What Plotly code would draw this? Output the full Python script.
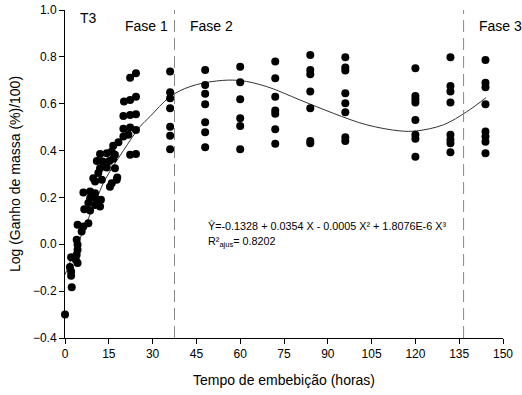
import plotly.graph_objects as go

# ---- data ----
hours_fase1 = [0, 2.3, 1.7, 2.1, 2.1, 2.1, 3.7, 4.3, 4.0, 4.3, 4.3, 4.0,
               5.7, 4.3, 6.3, 8.0, 6.6, 8.6, 8.0, 10.3, 12.0, 8.6, 10.9, 12.3,
               6.3, 8.6, 10.3, 10.3, 12.6, 15.4, 17.7, 9.7, 11.4, 17.9, 16.0,
               12.0, 14.3, 17.1, 10.9, 12.9, 15.2, 16.5, 12.0, 14.3, 16.0, 17.1,
               24.3, 22.3, 18.3, 16.5, 20.0, 21.7, 20.0, 22.3, 24.3, 20.0, 22.3,
               24.3, 20.2, 22.3, 24.3, 22.3, 24.3]
log_fase1 = [-0.30, -0.183, -0.097, -0.116, -0.134, -0.055, -0.066, -0.080, 0.019, -0.002, -0.023, -0.045,
             0.055, 0.083, 0.076, 0.090, 0.150, 0.144, 0.176, 0.168, 0.161, 0.197, 0.190, 0.190,
             0.221, 0.225, 0.218, 0.268, 0.275, 0.246, 0.275, 0.282, 0.304, 0.285, 0.261,
             0.325, 0.328, 0.325, 0.356, 0.353, 0.356, 0.365, 0.385, 0.389, 0.396, 0.382,
             0.385, 0.382, 0.436, 0.421, 0.460, 0.467, 0.493, 0.498, 0.488, 0.548, 0.552,
             0.555, 0.609, 0.616, 0.630, 0.711, 0.730]

col_hours = [36, 48, 60, 72, 84, 96, 120, 132, 144]
col_values = [
    [0.737, 0.649, 0.623, 0.581, 0.502, 0.463, 0.406],
    [0.744, 0.680, 0.642, 0.598, 0.521, 0.478, 0.414],
    [0.758, 0.692, 0.619, 0.538, 0.505, 0.406],
    [0.780, 0.709, 0.630, 0.571, 0.557, 0.491, 0.429],
    [0.808, 0.744, 0.726, 0.652, 0.581, 0.441, 0.431],
    [0.798, 0.755, 0.742, 0.645, 0.602, 0.564, 0.457, 0.441],
    [0.751, 0.633, 0.619, 0.605, 0.531, 0.467, 0.450, 0.374],
    [0.798, 0.676, 0.652, 0.605, 0.467, 0.446, 0.431, 0.393],
    [0.787, 0.690, 0.670, 0.598, 0.481, 0.460, 0.438, 0.389],
]

# fitted curve
curve_x = [0, 1.1, 6, 11.4, 13.7, 20, 25.7, 29.1, 36.0, 42.8, 51.9, 59.9, 69.1,
           80.5, 91.9, 103.3, 114.7, 120.4, 129.6, 137.6, 144.2]
curve_y = [-0.13, -0.095, 0.05, 0.211, 0.275, 0.40, 0.502, 0.545, 0.630, 0.673,
           0.697, 0.699, 0.673, 0.616, 0.559, 0.510, 0.484, 0.484, 0.510, 0.566, 0.626]

phase_limits = [37.5, 136.5]
x_ticks = list(range(0, 151, 15))
y_ticks = [-0.4, -0.2, 0.0, 0.2, 0.4, 0.6, 0.8, 1.0]

# ---- build ----
all_x = list(hours_fase1)
all_y = list(log_fase1)
for h, vals in zip(col_hours, col_values):
    all_x += [h] * len(vals)
    all_y += vals

FONT = "Liberation Sans, Arial, sans-serif"
fig = go.Figure()
fig.add_trace(go.Scatter(x=curve_x, y=curve_y, mode="lines",
                         line=dict(color="#333333", width=1, shape="spline", smoothing=1.0),
                         hoverinfo="skip", showlegend=False))
fig.add_trace(go.Scatter(x=all_x, y=all_y, mode="markers",
                         marker=dict(color="black", size=8),
                         cliponaxis=False, showlegend=False))

for xv in phase_limits:
    fig.add_shape(type="line", xref="x", yref="y", x0=xv, x1=xv, y0=-0.4, y1=1.0,
                  line=dict(color="#888888", width=1, dash="12px,6px"))

ann = [
    ("T3", 4.5, 0.968),
    ("Fase 1", 19.9, 0.932),
    ("Fase 2", 42.1, 0.932),
    ("Fase 3", 141.1, 0.932),
]
for t, xv, yv in ann:
    fig.add_annotation(x=xv, y=yv, xref="x", yref="y", text=t, showarrow=False,
                       xanchor="left", yanchor="middle",
                       font=dict(family=FONT, size=14, color="black"))

fig.add_annotation(x=48.3, y=0.077, xref="x", yref="y", showarrow=False,
                   xanchor="left", yanchor="middle", align="left",
                   text="Ŷ=-0.1328 + 0.0354 X - 0.0005 X² + 1.8076E-6 X³",
                   font=dict(family=FONT, size=10.8, color="black"))
fig.add_annotation(x=48.3, y=0.010, xref="x", yref="y", showarrow=False,
                   xanchor="left", yanchor="middle", align="left",
                   text="R²<sub>ajus</sub>= 0.8202",
                   font=dict(family=FONT, size=10.8, color="black"))

fig.update_layout(
    width=522, height=395,
    margin=dict(l=65, r=19, t=10, b=57),
    paper_bgcolor="white", plot_bgcolor="white",
    font=dict(family=FONT, size=12, color="black"),
    showlegend=False,
)
fig.update_xaxes(range=[0, 150], tickvals=x_ticks, ticks="outside", ticklen=5,
                 tickcolor="black", showline=True, linecolor="black", linewidth=1,
                 showgrid=False, zeroline=False, automargin=False,
                 tickfont=dict(family=FONT, size=12),
                 title=dict(text="Tempo de embebição (horas)", standoff=14,
                            font=dict(family=FONT, size=14)))
fig.update_yaxes(range=[-0.4, 1.0], tickvals=y_ticks, tickformat=".1f", ticks="outside",
                 ticklen=5, tickcolor="black", showline=True, linecolor="black", linewidth=1,
                 showgrid=False, zeroline=False, automargin=False,
                 tickfont=dict(family=FONT, size=12),
                 title=dict(text="Log (Ganho de massa (%)/100)", standoff=8,
                            font=dict(family=FONT, size=14)))

fig.write_html("out.html")
